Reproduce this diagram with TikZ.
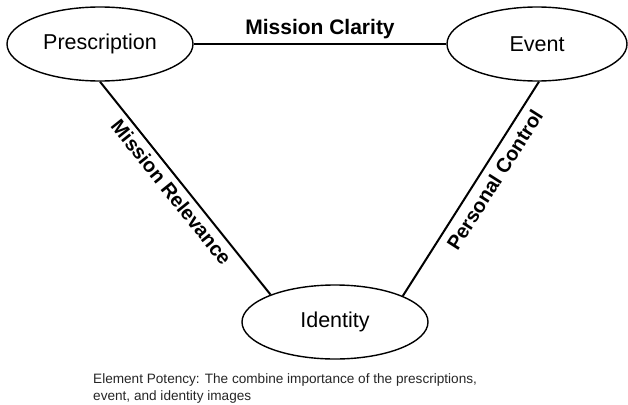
\documentclass[tikz,border=0pt]{standalone}
\usepackage{fontspec}
\setmainfont{Liberation Sans}
\usetikzlibrary{shapes.geometric}
\begin{document}
\begin{tikzpicture}[x=1pt,y=-1pt,
  elem/.style={draw, ellipse, line width=1.4pt, inner sep=0pt,
    minimum width=186pt, minimum height=74pt, font=\fontsize{21.5}{25}\selectfont},
  link/.style={line width=2pt},
  lbl/.style={font=\bfseries\fontsize{20}{24}\selectfont, inner sep=3pt},
  captext/.style={font=\fontsize{13.6}{16}\selectfont, text=black!85, anchor=base west, inner sep=0pt}]
\useasboundingbox (0,0) rectangle (628,404);
\node[elem] (P) at (100,44) {Prescription};
\node[elem, minimum width=180pt] (E) at (537,44) {Event};
\node[elem] (I) at (335,322) {Identity};
\draw[link] (P.east) -- node[lbl, above=1pt, font=\bfseries\fontsize{21}{24}\selectfont] {Mission Clarity} (E.west);
\draw[link] (P.south) -- node[lbl, sloped, below=2pt, pos=0.48] {Mission Relevance} (I.157);
\draw[link] (I.21) -- node[lbl, sloped, below=4pt, pos=0.58] {Personal Control} (E.-87);
\node[captext] (c1) at (93,383) {Element Potency: The combine importance of the prescriptions,};
\node[captext] (c2) at (93,400) {event, and identity images};
\end{tikzpicture}
\end{document}
